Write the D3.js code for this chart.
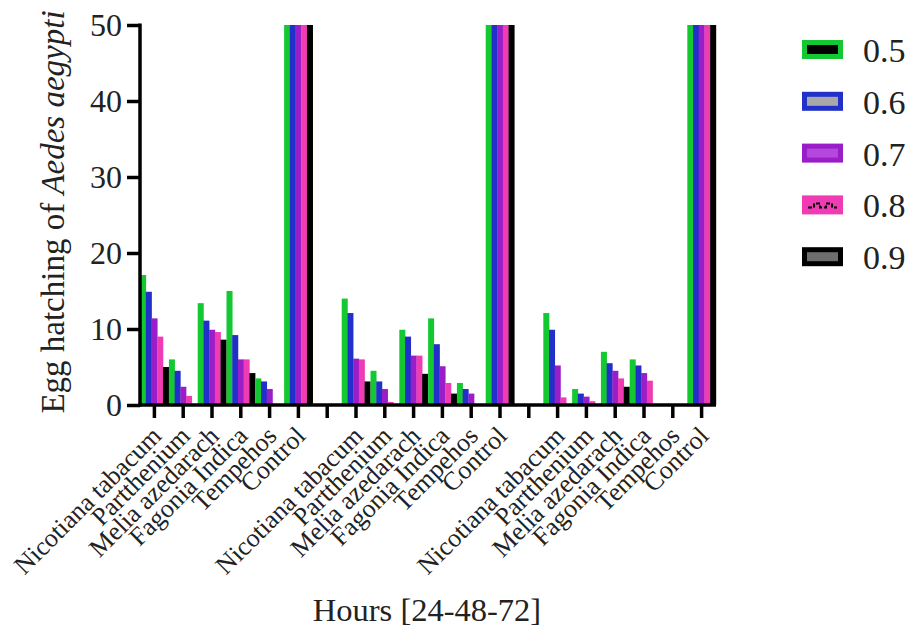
<!DOCTYPE html>
<html>
<head>
<meta charset="utf-8">
<script src="https://cdn.jsdelivr.net/npm/d3@7"></script>
<style>
  body { margin: 0; background: #fff; }
  svg text { font-family: 'Liberation Serif', serif; fill: #222; }
</style>
</head>
<body>
<svg id="chart" width="909" height="635"></svg>
<script>
// plants, repeated for each time point (24, 48, 72 h)
const plants = ["Nicotiana tabacum", "Partthenium", "Melia azedarach", "Fagonia Indica", "Tempehos", "Control"]
const hours = ["24", "48", "72"]
const concentrations = ["0.5", "0.6", "0.7", "0.8", "0.9"]

// values: 24h plants, then 48h plants, then 72h plants
const c05 = [17.1, 6.0, 13.4, 15.0, 3.5, 50,  14.0, 4.5, 9.9, 11.4, 2.9, 50,  12.1, 2.1, 7.0, 6.0, 0, 50]
const c06 = [14.9, 4.5, 11.1, 9.2, 3.1, 50,   12.1, 3.1, 9.0, 8.0, 2.1, 50,   9.9, 1.5, 5.5, 5.2, 0, 50]
const c07 = [11.4, 2.4, 9.9, 6.0, 2.1, 50,    6.1, 2.1, 6.5, 5.1, 1.5, 50,    5.2, 1.1, 4.5, 4.2, 0, 50]
const c08 = [9.0, 1.2, 9.6, 6.0, 0, 50,       6.0, 0.4, 6.5, 2.9, 0, 50,      1.0, 0.5, 3.5, 3.2, 0, 50]
const c09 = [5.0, 0, 8.6, 4.2, 0, 50,         3.1, 0, 4.1, 1.5, 0, 50,        0, 0, 2.4, 0, 0, 50]
const yTicks = [0, 10, 20, 30, 40, 50]

const series = [c05, c06, c07, c08, c09]

const barColors = ["#14c832", "#2030c8", "#9a1ec8", "#f03cb4", "#000000"]
const serif = "'Liberation Serif', serif"

// build slots: 6 plants, a blank slot, 6 plants, blank, 6 plants
const slots = []
hours.forEach((h, hi) => {
    plants.forEach((p, pi) => {
        slots.push({id: h + "|" + p, label: p, idx: hi * 6 + pi})
    })
    if (hi < hours.length - 1) slots.push({id: "gap" + hi, label: "", idx: -1})
})

const svg = d3.select("#chart")

const x = d3.scaleBand()
    .domain(slots.map(d => d.id))
    .range([140, 716])
    .padding(0)

const x1 = d3.scaleBand()
    .domain(concentrations)
    .range([0, x.bandwidth()])
    .paddingOuter(0.02)

const y = d3.scaleLinear()
    .domain([0, 50])
    .range([405, 25])
    .clamp(true)

// bars
const groups = svg.append("g")
    .selectAll("g")
    .data(slots.filter(d => d.idx >= 0))
    .join("g")
    .attr("transform", d => `translate(${x(d.id)},0)`)

groups.selectAll("rect")
    .data(d => concentrations.map((c, ci) => ({c: c, ci: ci, v: series[ci][d.idx]})))
    .join("rect")
    .attr("x", d => x1(d.c))
    .attr("width", x1.bandwidth() + 0.3)
    .attr("y", d => y(d.v))
    .attr("height", d => y(0) - y(d.v))
    .attr("fill", d => barColors[d.ci])

// y axis
const yAxis = svg.append("g")
    .attr("transform", "translate(140,0)")
    .call(d3.axisLeft(y).tickValues(yTicks).tickSize(13).tickPadding(5))
yAxis.attr("font-family", null).attr("font-size", null)
yAxis.select(".domain").attr("stroke-width", 3.5).attr("d", "M0,23.5V406.5")
yAxis.selectAll(".tick line").attr("stroke-width", 3.5)
yAxis.selectAll(".tick text").style("font-size", "32px").style("font-family", serif).attr("dy", "0.34em")

// x axis
const xAxis = svg.append("g")
    .attr("transform", "translate(0,405)")
    .call(d3.axisBottom(x).tickSize(13).tickFormat(id => slots.find(s => s.id == id).label))
xAxis.attr("font-family", null).attr("font-size", null)
xAxis.select(".domain").attr("stroke-width", 3.5).attr("d", "M138.5,0H716")
xAxis.selectAll(".tick line").attr("stroke-width", 3.5)
xAxis.selectAll(".tick text")
    .style("font-size", "26px")
    .style("font-family", serif)
    .attr("text-anchor", "end")
    .attr("x", 0)
    .attr("y", 0)
    .attr("dy", "0.35em")
    .attr("transform", "translate(2,26) rotate(-45)")

// axis titles
const yTitle = svg.append("text")
    .attr("transform", "translate(64,212) rotate(-90)")
    .attr("text-anchor", "middle")
    .style("font-size", "33px")
yTitle.append("tspan").text("Egg hatching of ")
yTitle.append("tspan").style("font-style", "italic").text("Aedes aegypti")

svg.append("text")
    .attr("x", 427)
    .attr("y", 621)
    .attr("text-anchor", "middle")
    .style("font-size", "32.5px")
    .text("Hours [24-48-72]")

// legend
const legendOuter = ["#14c832", "#2030c8", "#9a1ec8", "#f03cb4", "#000000"]
const legendInner = ["#000000", "#a8a8a8", "#b448dc", "#f03cb4", "#6e6e6e"]

const legend = svg.append("g")
    .selectAll("g")
    .data(concentrations)
    .join("g")
    .attr("transform", (d, i) => `translate(802,${40 + i * 51.8})`)

legend.append("rect")
    .attr("width", 41).attr("height", 19)
    .attr("fill", (d, i) => legendOuter[i])
legend.append("rect")
    .attr("x", 5).attr("y", 5)
    .attr("width", 31).attr("height", 9)
    .attr("fill", (d, i) => legendInner[i])

// dashed wiggle for the 0.8 key
legend.filter((d, i) => i == 3)
    .append("path")
    .attr("d", "M6,12H12V8H18V12H24V8H30V12H35")
    .attr("fill", "none")
    .attr("stroke", "#000")
    .attr("stroke-width", 2)
    .attr("stroke-dasharray", "4,2")

legend.append("text")
    .attr("x", 61)
    .attr("y", 10)
    .attr("dy", "0.35em")
    .style("font-size", "34px")
    .text(d => d)
</script>
</body>
</html>
